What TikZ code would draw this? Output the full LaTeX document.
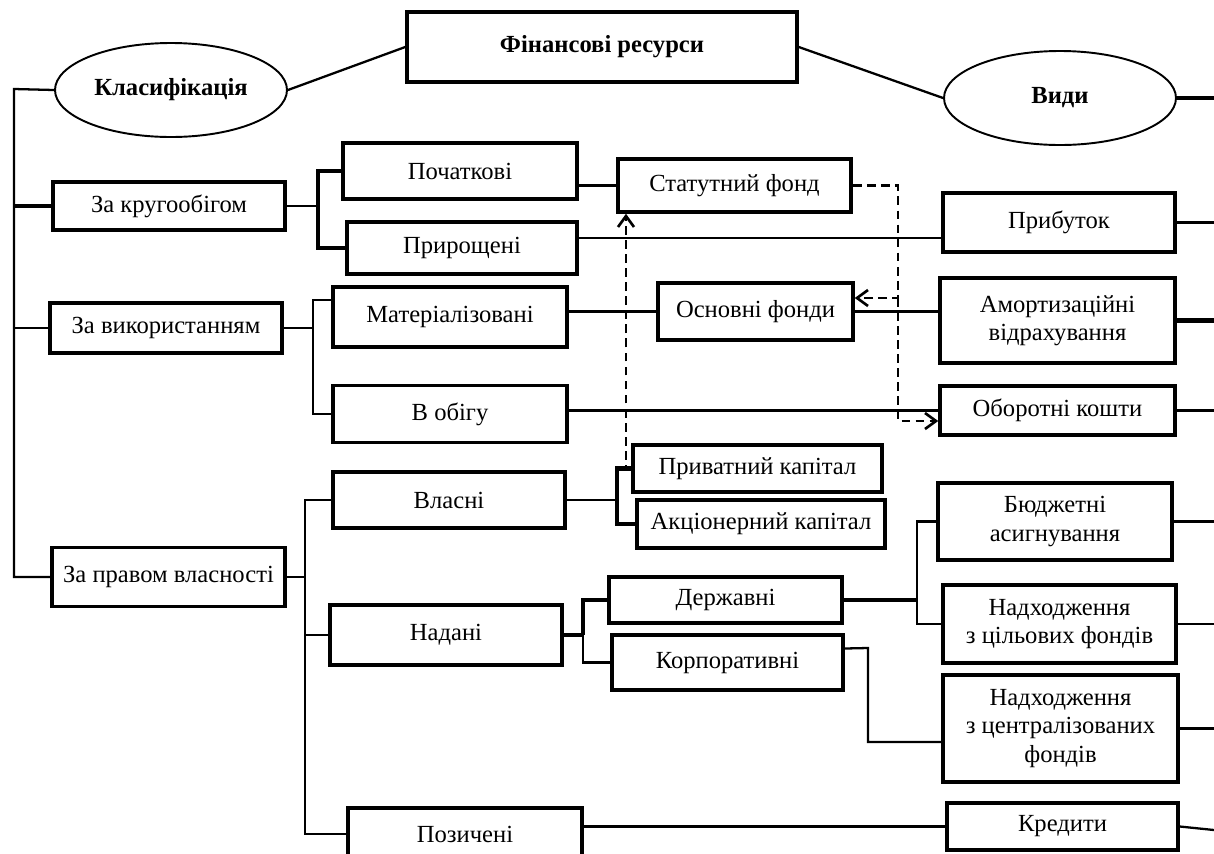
\documentclass[tikz,border=0pt]{standalone}
\usepackage{fontspec}
\setmainfont{Liberation Serif}
\usetikzlibrary{shapes.geometric,arrows.meta}

\begin{document}
\begin{tikzpicture}[x=0.02cm, y=-0.02cm,
    nodes = {font=\fontsize{14}{16}\selectfont},
    box/.style 2 args = {draw, line width=2pt, inner sep=0pt, align=center,
      minimum width=#1*0.02cm, minimum height=#2*0.02cm},
    oval/.style = {draw, ellipse, line width=1.1pt, inner sep=0pt,
      minimum width=232*0.02cm, minimum height=94*0.02cm,
      font=\fontsize{14}{16}\selectfont\bfseries},
    conn/.style = {line width=1.3pt},
    thickconn/.style = {line width=2.4pt},
    dasharrow/.style = {line width=1.5pt, dash pattern=on 5pt off 3pt,
      -{Straight Barb[length=2.2mm,width=3.2mm]}}]
  \useasboundingbox (0,0) rectangle (1214,853);

  % top level
  \node[box={390}{70}, font=\fontsize{14}{16}\selectfont\bfseries] (fin) at (602,47) {Фінансові ресурси};
  \node[oval] (klas) at (171,90) {Класифікація};
  \node[oval] (vydy) at (1060,98) {Види};

  % classification
  \node[box={232}{48}] (krug)  at (169,206)   {За кругообігом};
  \node[box={232}{50}] (vykor) at (166,328)   {За використанням};
  \node[box={233}{59}] (pravo) at (168.5,577) {За правом власності};

  % second column
  \node[box={234}{56}] (poch)   at (460,171) {Початкові};
  \node[box={230}{52}] (pryr)   at (462,248) {Прирощені};
  \node[box={234}{60}] (mater)  at (450,317) {Матеріалізовані};
  \node[box={234}{57}] (obig)   at (450,414) {В обігу};
  \node[box={232}{56}] (vlasni) at (449,500) {Власні};
  \node[box={232}{60}] (nadani) at (446,635) {Надані};
  \node[box={234}{52}] (pozych) at (465,834) {Позичені};

  % third column
  \node[box={233}{53}] (stat)   at (734.5,185.5) {Статутний фонд};
  \node[box={195}{57}] (osnov)  at (755.5,311.5) {Основні фонди};
  \node[box={249}{47}] (pryvat) at (757.5,468.5) {Приватний капітал};
  \node[box={248}{48}] (akts)   at (761,524)     {Акціонерний капітал};
  \node[box={233}{46}] (derzh)  at (725.5,600)   {Державні};
  \node[box={231}{55}] (korp)   at (727.5,662.5) {Корпоративні};

  % kinds
  \node[box={232}{59}]  (prybut) at (1059,222.5)  {Прибуток};
  \node[box={235}{85}]  (amort)  at (1057.5,320.5) {Амортизаційні\\відрахування};
  \node[box={235}{49}]  (oborot) at (1057.5,410.5) {Оборотні кошти};
  \node[box={234}{77}]  (budzh)  at (1055,521.5)  {Бюджетні\\асигнування};
  \node[box={233}{78}]  (tsil)   at (1059.5,624)  {Надходження\\з цільових фондів};
  \node[box={235}{107}] (tsentr) at (1060.5,728.5) {Надходження\\з централізованих\\фондів};
  \node[box={231}{47}]  (kredyt) at (1062.5,826.5) {Кредити};

  % junctions
  \coordinate (edge) at (1214,0);
  \coordinate (tr) at (14,89);
  \coordinate (j1) at (318,206);
  \coordinate (j2) at (313,328);
  \coordinate (j3) at (305,577);
  \coordinate (j4) at (617,500);
  \coordinate (j5) at (583,635);
  \coordinate (j6) at (917,600);
  \coordinate (j7) at (868,648);
  \coordinate (d1) at (898,185.5);
  \coordinate (d2) at (898,298);
  \coordinate (d3) at (898,421);
  \coordinate (d4) at (626,0);
  \coordinate (a1) at ([yshift=0.2cm]pryr.east);
  \coordinate (a2) at ([yshift=0.34cm]mater.west);
  \coordinate (a3) at ([yshift=-0.27cm]tsentr.west);
  \coordinate (e7) at (1214,830);

  % header lines
  \draw[conn] (klas.east) -- (fin.west);
  \draw[conn] (fin.east) -- (vydy.west);
  \draw[thickconn] (vydy.east) -- (vydy.east -| edge);

  % trunk
  \draw[conn] (klas.west) -- (tr) |- (pravo.west);
  \draw[thickconn] (tr |- krug.west) -- (krug.west);
  \draw[conn] (tr |- vykor.west) -- (vykor.west);

  % branches
  \draw[conn] (krug.east) -- (j1);
  \draw[thickconn] (poch.west) -| (j1) |- (pryr.west);
  \draw[conn] (vykor.east) -- (j2);
  \draw[conn] (a2) -| (j2) |- (obig.west);
  \draw[conn] (pravo.east) -- (j3);
  \draw[conn] (vlasni.west) -| (j3) |- (pozych.west);
  \draw[conn] (j3) |- (nadani.west);
  \draw[conn] (vlasni.east) -- (j4);
  \draw[thickconn] (pryvat.west) -| (j4) |- (akts.west);
  \draw[thickconn] (nadani.east) -- (j5);
  \draw[thickconn] (derzh.west) -| (j5);
  \draw[conn] (j5) |- (korp.west);
  \draw[thickconn] (derzh.east) -- (j6);
  \draw[conn] (budzh.west) -| (j6) |- (tsil.west);
  \draw[conn] ([yshift=0.28cm]korp.east) -- (j7) |- (a3);

  % straight links
  \draw[conn] (stat.west -| poch.east) -- (stat.west);
  \draw[conn] (a1) -- (a1 -| prybut.west);
  \draw[conn] (osnov.west -| mater.east) -- (osnov.west);
  \draw[conn] (osnov.east) -- (osnov.east -| amort.west);
  \draw[conn] (oborot.west -| obig.east) -- (oborot.west);
  \draw[conn] (kredyt.west -| pozych.east) -- (kredyt.west);

  % to the right edge
  \draw[conn] (prybut.east) -- (prybut.east -| edge);
  \draw[thickconn] (amort.east) -- (amort.east -| edge);
  \draw[conn] (oborot.east) -- (oborot.east -| edge);
  \draw[conn] (budzh.east) -- (budzh.east -| edge);
  \draw[conn] (tsil.east) -- (tsil.east -| edge);
  \draw[conn] (tsentr.east) -- (tsentr.east -| edge);
  \draw[conn] (kredyt.east) -- (e7);

  % dashed links
  \draw[dasharrow] (stat.east) -- (d1) -- (d2) -- (d2 -| osnov.east);
  \draw[dasharrow] (d2) -- (d3) -- (d3 -| oborot.west);
  \draw[dasharrow] (pryvat.west) -| (d4 |- stat.south);
\end{tikzpicture}
\end{document}
